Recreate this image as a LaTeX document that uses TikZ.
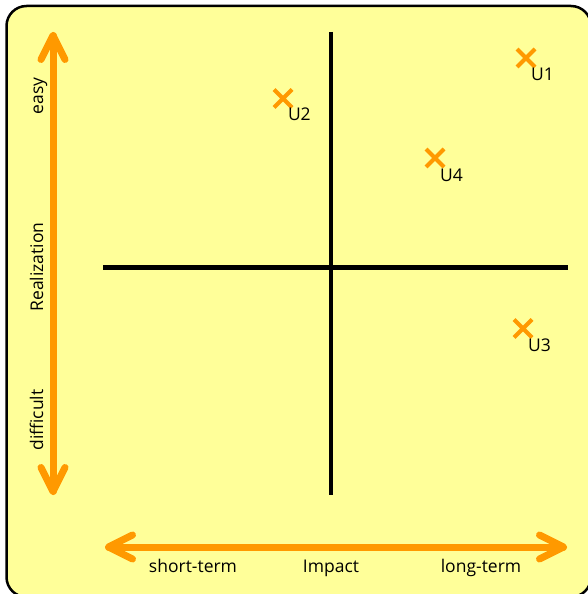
\documentclass[tikz,border=0pt]{standalone}
\usepackage{fontspec}
\setmainfont{Open Sans}
\usetikzlibrary{shapes.misc,calc}
\definecolor{bgyellow}{HTML}{FFFF99}
\definecolor{arroworange}{HTML}{FF9900}
\begin{document}
\begin{tikzpicture}[x=1pt,y=-1pt,
  lbl/.style={font=\fontsize{17.5}{21}\selectfont, inner sep=0pt, text=black},
  axisline/.style={line width=4.5pt, black},
  bigarrow/.style={line width=7pt, draw=arroworange, line cap=round, line join=round},
  ucross/.style={cross out, draw=arroworange, line width=4pt, minimum size=14pt, inner sep=0pt},
  panel/.style={draw=black, line width=2.5pt, fill=bgyellow, rounded corners=20pt}]
\useasboundingbox (0,0) rectangle (588,594);
\clip (0,0) rectangle (588,594);
% background panel
\draw[panel] (6.5,6) rectangle (591,597);
% axes
\coordinate (vtop) at (331,32);
\coordinate (vbot) at (331,495);
\coordinate (hleft) at (103,267.5);
\coordinate (hright) at (568,267.5);
\draw[axisline] (vtop) -- (vbot);
\draw[axisline] (hleft) -- (hright);
% vertical arrow
\coordinate (vt) at (53,35.5);
\coordinate (vb) at (53,491.5);
\draw[bigarrow] (vt) -- (vb);
\draw[bigarrow] ($(vt)+(-12,24)$) -- (vt) -- ($(vt)+(12,24)$);
\draw[bigarrow] ($(vb)+(-12,-24)$) -- (vb) -- ($(vb)+(12,-24)$);
% horizontal arrow
\coordinate (hl) at (108.5,547);
\coordinate (hr) at (563.5,547);
\draw[bigarrow] (hl) -- (hr);
\draw[bigarrow] ($(hl)+(24,-12)$) -- (hl) -- ($(hl)+(24,12)$);
\draw[bigarrow] ($(hr)+(-24,-12)$) -- (hr) -- ($(hr)+(-24,12)$);
% vertical labels
\node[lbl, rotate=90, anchor=base] (easy) at (43,96) {easy};
\node[lbl, rotate=90, anchor=base] (realization) at (43,267) {Realization};
\node[lbl, rotate=90, anchor=base] (difficult) at (43,420) {difficult};
% horizontal labels
\node[lbl, anchor=base] (short) at (193,572) {short-term};
\node[lbl, anchor=base] (impact) at (331,572) {Impact};
\node[lbl, anchor=base] (long) at (481,572) {long-term};
% items
\node[ucross] (u1) at (526,58) {};
\node[lbl, anchor=base west] (u1l) at (531,81) {U1};
\node[ucross] (u2) at (283,98.5) {};
\node[lbl, anchor=base west] (u2l) at (287.8,120.7) {U2};
\node[ucross] (u3) at (523,328.5) {};
\node[lbl, anchor=base west] (u3l) at (528,351) {U3};
\node[ucross] (u4) at (435,158) {};
\node[lbl, anchor=base west] (u4l) at (440,181) {U4};
\end{tikzpicture}
\end{document}
